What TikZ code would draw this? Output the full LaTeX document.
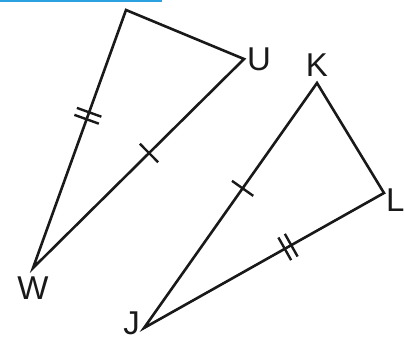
\documentclass[tikz,border=0pt]{standalone}
\usepackage{fontspec}
\setmainfont{Liberation Sans}
\usetikzlibrary{positioning}

\newcommand{\singlemark}{\rule{2.4pt}{26pt}}
\newcommand{\doublemark}{\rule{2.4pt}{26pt}\hspace{5pt}\rule{2.4pt}{26pt}}

\begin{document}
\begin{tikzpicture}[
  x=1pt, y=-1pt,
  font=\fontsize{33}{36}\selectfont,
  side/.style={line width=2.6pt, black!90},
  lbl/.style={inner sep=0pt, text=black!90},
  tickmark/.style={sloped, inner sep=0pt, font=\fontsize{10}{10}\selectfont, text=black!90},
]
\useasboundingbox (0,0) rectangle (405,338);

% header rule
\draw[line width=2pt, cyan!80!blue!85] (0,1) -- (162,1);

% first triangle
\coordinate (T) at (126,10);
\coordinate (U) at (244,59);
\coordinate (W) at (33,268);
\draw[side] (T) -- (U) -- (W) -- cycle;
\path (U) -- node[tickmark, pos=.45] (uw) {\singlemark} (W);
\path (W) -- node[tickmark, pos=.59] (wt) {\doublemark} (T);

% second triangle
\coordinate (K) at (317,83);
\coordinate (L) at (384,193);
\coordinate (J) at (144,328);
\draw[side] (K) -- (L) -- (J) -- cycle;
\path (L) -- node[tickmark, pos=.4] (lj) {\doublemark} (J);
\path (J) -- node[tickmark, pos=.57] (jk) {\singlemark} (K);

% vertex labels
\node[lbl, right=3pt of U] (labU) {U};
\node[lbl, above=6pt of K] (labK) {K};
\node[lbl, right=2pt of L, yshift=-7pt] (labL) {L};
\node[lbl, below=9pt of W] (labW) {W};
\node[lbl, left=4pt of J, yshift=5pt] (labJ) {J};
\end{tikzpicture}
\end{document}
